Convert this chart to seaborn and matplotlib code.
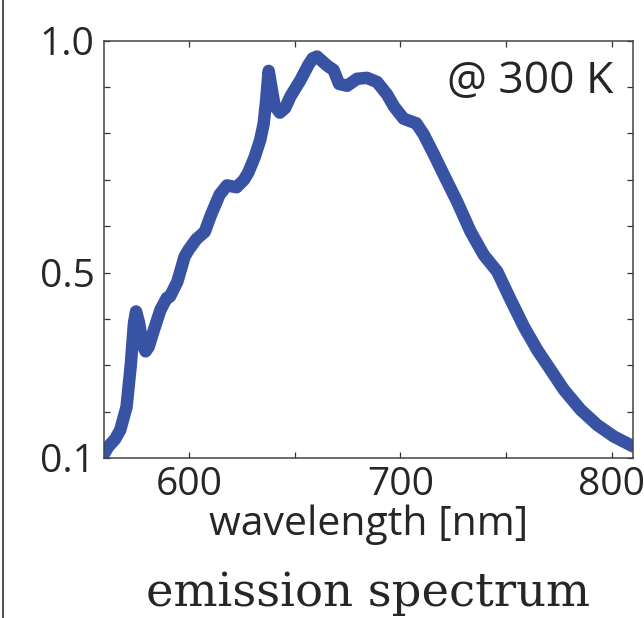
import numpy as np
import pandas as pd
import seaborn as sns
import matplotlib
matplotlib.use('Agg')
import matplotlib.pyplot as plt
from matplotlib.lines import Line2D
from matplotlib.ticker import FixedLocator, FixedFormatter

# emission spectrum
wavelength = [560, 562, 565, 567.5, 570.5, 572.5, 574, 575, 576.5, 578, 579.5, 581, 583,
              586.5, 589.5, 591, 594.5, 598, 600, 603.5, 607.5, 610.5, 614.5, 618, 622.5,
              626, 628, 631, 633.7, 635.3, 636.5, 637.7, 639, 640.5, 643, 645.5, 648,
              652.7, 656.5, 658.5, 660.6, 663, 665.5, 668.4, 671, 674.8, 679.5, 684.2,
              689, 693.7, 697, 701.5, 705, 707.5, 711, 715.8, 720.5, 726.8, 733.2, 739.4,
              745.8, 751.5, 758.4, 764.7, 771, 777.3, 785.2, 793.1, 801, 810]
intensity = [0.11, 0.125, 0.14, 0.16, 0.21, 0.30, 0.39, 0.416, 0.39, 0.345, 0.33, 0.34, 0.37,
             0.419, 0.445, 0.448, 0.48, 0.535, 0.55, 0.572, 0.588, 0.625, 0.668, 0.688, 0.684,
             0.70, 0.715, 0.748, 0.786, 0.82, 0.87, 0.935, 0.90, 0.86, 0.845, 0.855, 0.88,
             0.915, 0.948, 0.962, 0.966, 0.956, 0.946, 0.937, 0.907, 0.903, 0.918, 0.92,
             0.911, 0.884, 0.858, 0.832, 0.826, 0.822, 0.798, 0.755, 0.711, 0.653, 0.588, 0.538,
             0.502, 0.447, 0.383, 0.333, 0.29, 0.247, 0.204, 0.171, 0.146, 0.125]

x_ticks = [600, 650, 700, 750, 800]
x_labels = ['600', '', '700', '', '800']
y_ticks = [0.1, 0.2, 0.3, 0.4, 0.5, 0.6, 0.7, 0.8, 0.9, 1.0]
y_labels = ['0.1', '', '', '', '0.5', '', '', '', '', '1.0']

df = pd.DataFrame({'wavelength': wavelength, 'intensity': intensity})

sns.set_style('ticks')
plt.rcParams['font.family'] = ['Open Sans', 'DejaVu Sans']

fig = plt.figure(figsize=(6.44, 6.18), dpi=100)
ax = fig.add_axes([0.162, 0.259, 0.821, 0.675])

sns.lineplot(data=df, x='wavelength', y='intensity', ax=ax, color='#3953a4',
             linewidth=9, solid_capstyle='round', solid_joinstyle='round')

ax.set_xlim(560, 810)
ax.set_ylim(0.1, 1.0)
ax.xaxis.set_major_locator(FixedLocator(x_ticks))
ax.xaxis.set_major_formatter(FixedFormatter(x_labels))
ax.yaxis.set_major_locator(FixedLocator(y_ticks))
ax.yaxis.set_major_formatter(FixedFormatter(y_labels))
ax.tick_params(direction='in', length=4.5, width=0.9, color='#333333',
               top=True, right=True, labelsize=28, pad=6)
ax.tick_params(axis='y', pad=7)
for s in ax.spines.values():
    s.set_color('#444444')
    s.set_linewidth(1.1)

ax.set_xlabel('wavelength [nm]', fontsize=29.5, labelpad=0)
ax.set_ylabel('')
ax.text(0.962, 0.902, '@ 300 K', transform=ax.transAxes, ha='right', va='center', fontsize=32)

fig.text(0.571, 0.02, 'emission spectrum', ha='center', va='baseline',
         fontsize=33.5, family='DejaVu Serif')
fig.add_artist(Line2D([2.5 / 644, 2.5 / 644], [0, 1], transform=fig.transFigure,
                      color='#555555', linewidth=1.5))

fig.savefig('out.png', dpi=100)
